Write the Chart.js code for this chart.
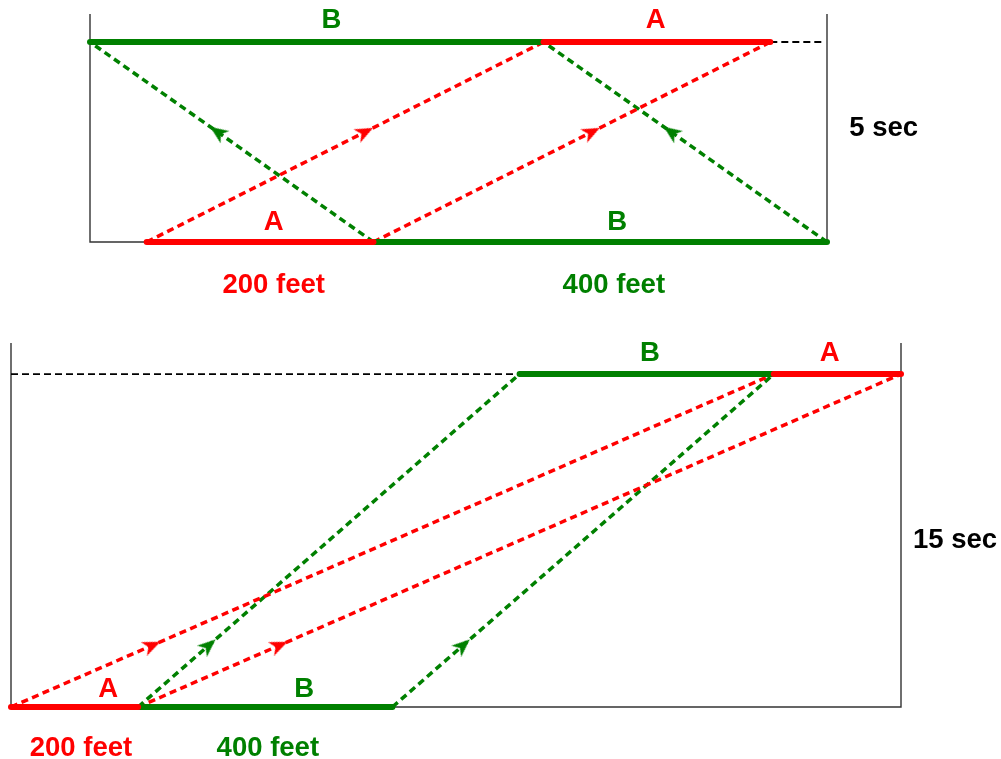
<!DOCTYPE html>
<html>
<head>
<meta charset="utf-8">
<script src="https://cdn.jsdelivr.net/npm/chart.js@4.4.1/dist/chart.umd.min.js"></script>
<style>
  html, body { margin: 0; padding: 0; background: #fff; }
  #wrap { position: relative; width: 1001px; height: 759px; overflow: hidden; }
  canvas { position: absolute; left: 0; }
  #topChart { top: 0; }
  #bottomChart { top: 320px; }
</style>
</head>
<body>
<div id="wrap">
  <canvas id="topChart" width="1001" height="310"></canvas>
  <canvas id="bottomChart" width="1001" height="439"></canvas>
</div>
<script>
// ===== DATA =====
// Top diagram: trains passing in opposite directions (x = feet, y = seconds)
const topAStart = [50, 250];    // train A rear/front at t = 0
const topBStart = [250, 650];   // train B at t = 0
const topAEnd = [400, 600];     // train A at t = 5
const topBEnd = [0, 400];       // train B at t = 5
const topTime = 5;
const topTrack = 650;

// Bottom diagram: A overtakes B in the same direction
const botAStart = [0, 200];
const botBStart = [200, 600];
const botAEnd = [1200, 1400];
const botBEnd = [800, 1200];
const botTime = 15;
const botTrack = 1400;

const lengthLabels = ['200 feet', '400 feet'];
const trainLabels = ['A', 'B'];
const topTimeLabel = '5 sec';
const botTimeLabel = '15 sec';

const RED = '#ff0000';
const GREEN = '#008000';
const FONT = 'bold 27.5px "Liberation Sans", Arial, sans-serif';

// notched arrow head used as point style
function makeArrow(color) {
    const c = document.createElement('canvas');
    c.width = 18;
    c.height = 15;
    const g = c.getContext('2d');
    g.fillStyle = color;
    g.beginPath();
    g.moveTo(18, 7.5);
    g.lineTo(0, 0);
    g.lineTo(5, 7.5);
    g.lineTo(0, 15);
    g.closePath();
    g.fill();
    return c;
}
const redArrow = makeArrow(RED);
const greenArrow = makeArrow(GREEN);

function seg(x1, y1, x2, y2) {
    return [{ x: x1, y: y1 }, { x: x2, y: y2 }];
}

function lineSet(data, color, width, dash, order) {
    return {
        type: 'line',
        data,
        borderColor: color,
        borderWidth: width,
        borderDash: dash || [],
        borderCapStyle: dash ? 'butt' : 'round',
        pointRadius: 0,
        fill: false,
        tension: 0,
        clip: false,
        order
    };
}

function arrowPoint(x1, y1, x2, y2, f) {
    return { x: x1 + (x2 - x1) * f, y: y1 + (y2 - y1) * f, x1, y1, x2, y2 };
}

// text labels drawn in data coordinates
const labelPlugin = {
    id: 'labels',
    afterDatasetsDraw(chart, args, opts) {
        const ctx = chart.ctx;
        const sx = chart.scales.x, sy = chart.scales.y;
        ctx.save();
        ctx.font = FONT;
        ctx.textAlign = 'center';
        ctx.textBaseline = 'middle';
        (opts.items || []).forEach(l => {
            ctx.fillStyle = l.color;
            ctx.fillText(l.text, sx.getPixelForValue(l.x), sy.getPixelForValue(l.y));
        });
        ctx.restore();
    }
};

function buildDiagram(canvasId, d) {
    const datasets = [];
    // frame
    datasets.push(lineSet([{ x: 0, y: d.yMax }, { x: 0, y: 0 }, { x: d.track, y: 0 }, { x: d.track, y: d.yMax }], '#333', 1.4, null, 9));
    datasets[0].borderCapStyle = 'butt';
    // black reference line at the end time
    datasets.push(lineSet(seg(d.ref[0], d.time, d.ref[1], d.time), '#000', 1.8, [7, 4], 8));

    const arrows = { red: [], green: [] };
    for (let i = 0; i < 2; i++) {
        datasets.push(lineSet(seg(d.aStart[i], 0, d.aEnd[i], d.time), RED, 3.5, [7, 4.5], 6));
        datasets.push(lineSet(seg(d.bStart[i], 0, d.bEnd[i], d.time), GREEN, 3.5, [7, 4.5], 6));
        arrows.red.push(arrowPoint(d.aStart[i], 0, d.aEnd[i], d.time, d.arrowAt));
        arrows.green.push(arrowPoint(d.bStart[i], 0, d.bEnd[i], d.time, d.arrowAt));
    }

    // trains
    datasets.push(lineSet(seg(d.bStart[0], 0, d.bStart[1], 0), GREEN, 6, null, 4));
    datasets.push(lineSet(seg(d.aStart[0], 0, d.aStart[1], 0), RED, 6, null, 3));
    datasets.push(lineSet(seg(d.bEnd[0], d.time, d.bEnd[1], d.time), GREEN, 6, null, 4));
    datasets.push(lineSet(seg(d.aEnd[0], d.time, d.aEnd[1], d.time), RED, 6, null, 3));

    const rotation = (c) => {
        const p = c.raw;
        if (!p) return 0;
        const sx = c.chart.scales.x, sy = c.chart.scales.y;
        const dx = sx.getPixelForValue(p.x2) - sx.getPixelForValue(p.x1);
        const dy = sy.getPixelForValue(p.y2) - sy.getPixelForValue(p.y1);
        return Math.atan2(dy, dx) * 180 / Math.PI;
    };
    [['red', redArrow], ['green', greenArrow]].forEach(([k, img]) => {
        datasets.push({
            type: 'scatter',
            data: arrows[k],
            pointStyle: img,
            pointRadius: 7,
            pointRotation: rotation,
            clip: false,
            order: 1
        });
    });

    return new Chart(document.getElementById(canvasId), {
        type: 'scatter',
        data: { datasets },
        options: {
            responsive: false,
            animation: false,
            events: [],
            layout: { padding: d.padding },
            plugins: {
                legend: { display: false },
                tooltip: { enabled: false },
                labels: { items: d.labels }
            },
            scales: {
                x: { type: 'linear', min: 0, max: d.track, display: false },
                y: { type: 'linear', min: 0, max: d.yMax, display: false }
            }
        },
        plugins: [labelPlugin]
    });
}

buildDiagram('topChart', {
    aStart: topAStart, bStart: topBStart, aEnd: topAEnd, bEnd: topBEnd,
    time: topTime, track: topTrack, yMax: 5.7,
    ref: [topAEnd[1], 645],
    arrowAt: 0.55,
    padding: { left: 90, right: 174, top: 14, bottom: 68 },
    labels: [
        { text: trainLabels[1], x: 213, y: 5.55, color: GREEN },
        { text: trainLabels[0], x: 499, y: 5.55, color: RED },
        { text: trainLabels[0], x: 162, y: 0.5, color: RED },
        { text: trainLabels[1], x: 465, y: 0.5, color: GREEN },
        { text: lengthLabels[0], x: 162, y: -1.08, color: RED },
        { text: lengthLabels[1], x: 462, y: -1.08, color: GREEN },
        { text: topTimeLabel, x: 700, y: 2.85, color: '#000' }
    ]
});

buildDiagram('bottomChart', {
    aStart: botAStart, bStart: botBStart, aEnd: botAEnd, bEnd: botBEnd,
    time: botTime, track: botTrack, yMax: 16.4,
    ref: [0, botBEnd[0]],
    arrowAt: 0.185,
    padding: { left: 11, right: 100, top: 23, bottom: 52 },
    labels: [
        { text: trainLabels[1], x: 1005, y: 15.95, color: GREEN },
        { text: trainLabels[0], x: 1288, y: 15.95, color: RED },
        { text: trainLabels[0], x: 153, y: 0.77, color: RED },
        { text: trainLabels[1], x: 461, y: 0.77, color: GREEN },
        { text: lengthLabels[0], x: 110, y: -1.85, color: RED },
        { text: lengthLabels[1], x: 404, y: -1.85, color: GREEN },
        { text: botTimeLabel, x: 1485, y: 7.52, color: '#000' }
    ]
});
</script>
</body>
</html>
